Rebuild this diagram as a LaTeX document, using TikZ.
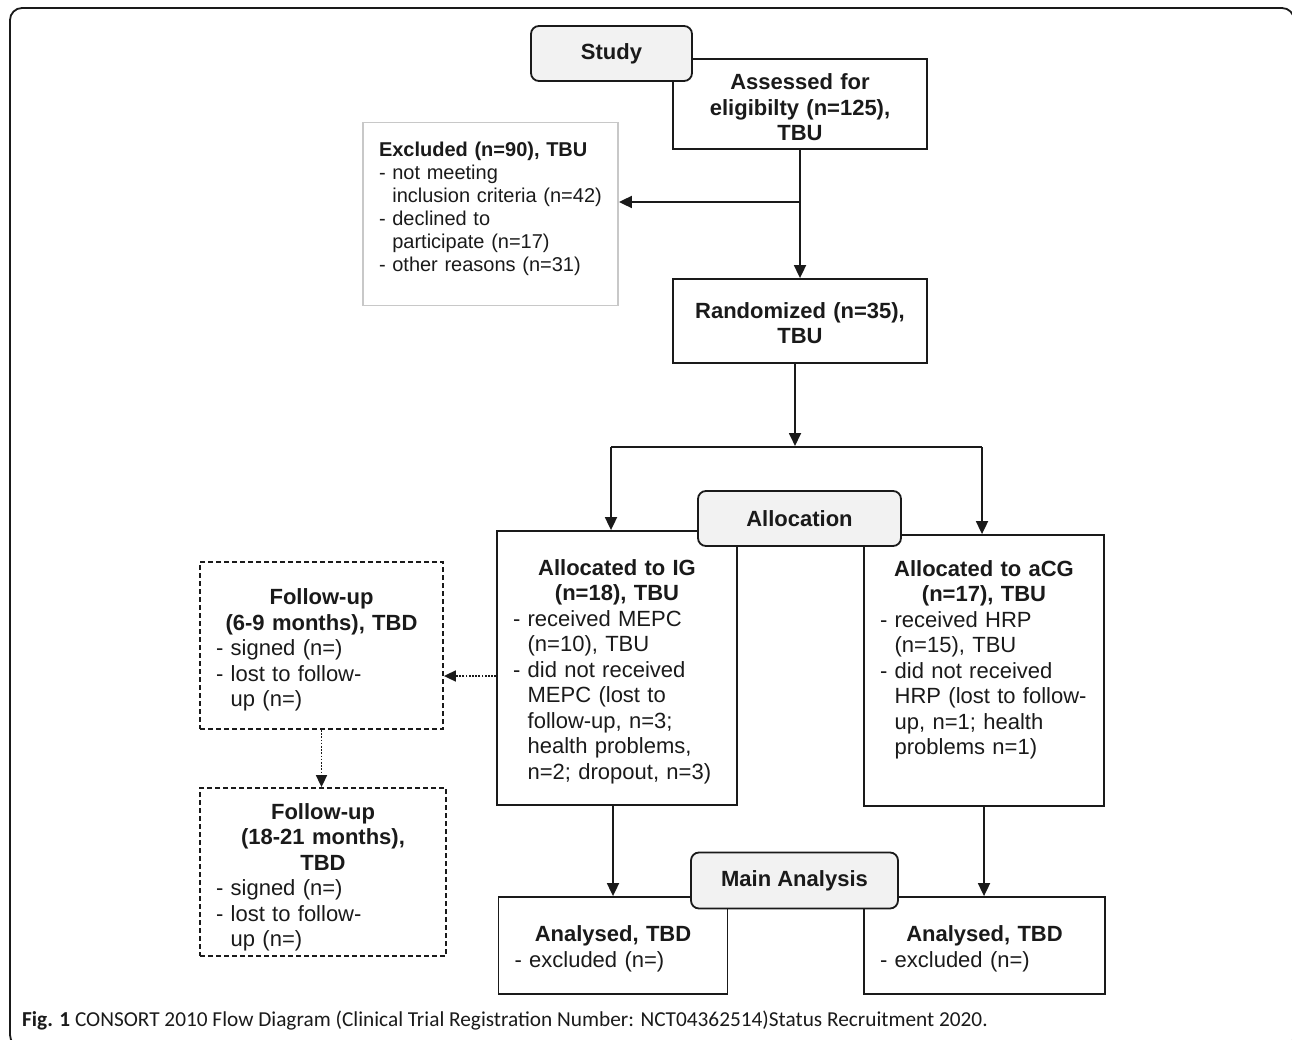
\documentclass[tikz,border=0pt]{standalone}
\usepackage{fontspec}
\setmainfont{Liberation Sans}
\newfontfamily\capfont{Carlito}
\usetikzlibrary{arrows.meta}
\definecolor{ink}{HTML}{1A1A1A}
\definecolor{tagfill}{HTML}{F2F2F2}
\definecolor{exgray}{HTML}{C8C8C8}
\newcommand{\bodyfont}{\fontsize{22}{25.5}\selectfont}
\newcommand{\exfont}{\fontsize{20}{23}\selectfont}
\newcommand{\ind}{\phantom{- }}
\newcommand{\tsh}[1]{\rule{0pt}{\dimexpr\ht\strutbox+#1pt\relax}}
\setlength{\parindent}{0pt}

\begin{document}
\begin{tikzpicture}[x=1pt,y=-1pt,
  box/.style={draw=ink,line width=1.8pt,inner xsep=16pt,inner ysep=0pt,align=left,font=\bodyfont,text=ink},
  dashbox/.style={box,dash pattern=on 5pt off 3pt},
  tag/.style={draw=ink,line width=1.8pt,fill=tagfill,rounded corners=8pt,font=\bodyfont\bfseries,text=ink},
  arr/.style={draw=ink,line width=1.8pt,-{Triangle[length=13pt,width=12pt]}},
  dotarr/.style={draw=ink,line width=1.7pt,dash pattern=on 1.7pt off 1.5pt,-{Triangle[length=12pt,width=11pt]}}]
\useasboundingbox (0,0) rectangle (1292,1040);
\draw[ink,line width=1.8pt,rounded corners=12pt] (10,8) rectangle (1294,1047);

\node[box,align=center,font=\bodyfont\bfseries,text width=222,minimum height=90] (assess) at (800,104) {\tsh{5}Assessed for\\eligibilty (n=125),\\TBU};
\node[box,draw=exgray,font=\exfont,text width=223,minimum height=183] (excl) at (490.5,214) {\tsh{13}{\bfseries Excluded (n=90), TBU}\\- not meeting\\\ind inclusion criteria (n=42)\\- declined to\\\ind participate (n=17)\\- other reasons (n=31)\\ \strut};
\node[box,align=center,font=\bodyfont\bfseries,text width=222,minimum height=84] (rand) at (800,321) {\tsh{2}Randomized (n=35),\\TBU};

\node[box,text width=208,minimum height=274] (ig) at (617,668) {\tsh{5}{\centering\bfseries Allocated to IG\\(n=18), TBU\par}- received MEPC\\\ind (n=10), TBU\\- did not received\\\ind MEPC (lost to\\\ind follow-up, n=3;\\\ind health problems,\\\ind n=2; dropout, n=3)};
\node[box,text width=208,minimum height=271] (acg) at (984,670.5) {\tsh{5}{\centering\bfseries Allocated to aCG\\(n=17), TBU\par}- received HRP\\\ind (n=15), TBU\\- did not received\\\ind HRP (lost to follow-\\\ind up, n=1; health\\\ind problems n=1)\\ \strut};

\node[dashbox,text width=211,minimum height=167] (fu1) at (321.5,645.5) {\tsh{7}{\centering\bfseries Follow-up\\(6-9 months), TBD\par}- signed (n=)\\- lost to follow-\\\ind up (n=)};
\node[dashbox,text width=214,minimum height=168] (fu2) at (323,872) {\tsh{9}{\centering\bfseries Follow-up\\(18-21 months),\\TBD\par}- signed (n=)\\- lost to follow-\\\ind up (n=)};

\node[box,text width=197,minimum height=97] (ana1) at (613,945.5) {\tsh{5}{\centering\bfseries Analysed, TBD\par}- excluded (n=)};
\node[box,text width=209,minimum height=97] (ana2) at (984.5,945.5) {\tsh{5}{\centering\bfseries Analysed, TBD\par}- excluded (n=)};

\node[tag,minimum width=161,minimum height=55] (study) at (611.5,53.5) {Study};
\node[tag,minimum width=203,minimum height=55] (alloc) at (799.5,518.5) {Allocation};
\node[tag,minimum width=207,minimum height=56] (mainan) at (794.5,880.5) {Main Analysis};

\coordinate (split) at (800,202);
\coordinate (fork) at (795,446);
\coordinate (forkL) at (611,447);
\coordinate (forkR) at (982,447);

\draw[arr] (assess.south) -- (rand.north);
\draw[arr] (split) -- (split -| excl.east);
\draw[arr] (rand.south -| fork) -- (fork);
\draw[draw=ink,line width=1.8pt] (forkL) -- (forkR);
\draw[arr] (forkL) -- (forkL |- ig.north);
\draw[arr] (forkR) -- (forkR |- acg.north);
\draw[arr] (ig.south -| ana1.north) -- (ana1.north);
\draw[arr] (acg.south) -- (acg.south |- ana2.north);
\draw[dotarr] ([yshift=-8pt]ig.west) -- ([yshift=-8pt]ig.west -| fu1.east);
\draw[dotarr] (fu1.south) -- (fu1.south |- fu2.north);

\node[anchor=west,inner sep=0pt,font=\capfont\fontsize{21.3}{25}\selectfont,text=ink] (cap) at (22,1021) {\textbf{Fig. 1} CONSORT 2010 Flow Diagram (Clinical Trial Registration Number: NCT04362514)Status Recruitment 2020.};
\end{tikzpicture}
\end{document}
